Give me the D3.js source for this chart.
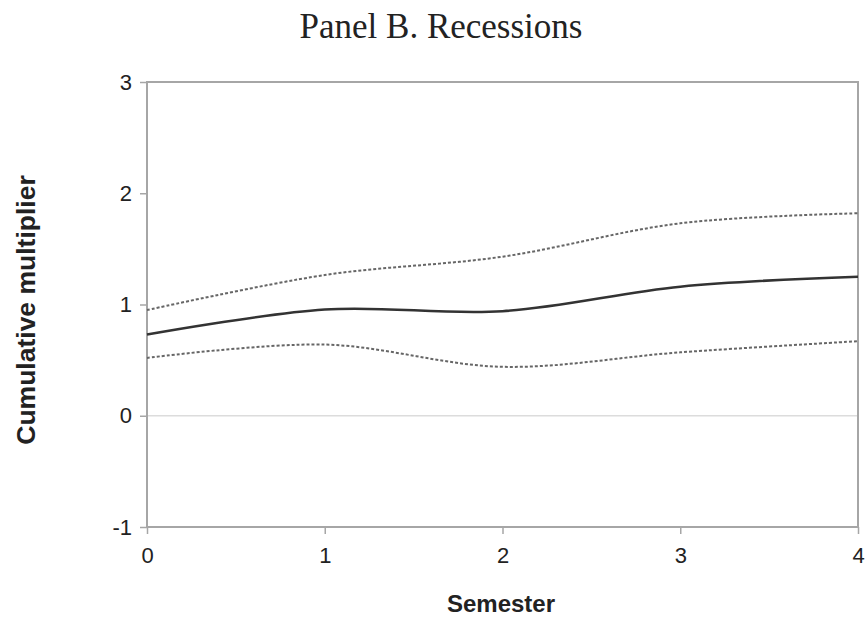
<!DOCTYPE html>
<html><head><meta charset="utf-8">
<script src="https://cdn.jsdelivr.net/npm/d3@7"></script>
<style>body{margin:0;background:#fff}</style>
</head><body><svg id="c" width="866" height="624"></svg>
<script>
const semesters = [0, 1, 2, 3, 4];
const estimate = [0.73, 0.955, 0.94, 1.16, 1.25];
const upperBand = [0.95, 1.265, 1.43, 1.73, 1.82];
const lowerBand = [0.52, 0.64, 0.44, 0.57, 0.67];
const xTicks = [0, 1, 2, 3, 4];
const yTicks = [-1, 0, 1, 2, 3];

const svg = d3.select('#c');
const m = {l:147, r:858, t:82, b:527};
const x = d3.scaleLinear().domain([0,4]).range([m.l, m.r]);
const y = d3.scaleLinear().domain([-1,3]).range([m.b, m.t]);
const axisCol = '#a6a6a6';

// zero gridline
svg.append('line').attr('x1', x(0)).attr('x2', x(4)).attr('y1', y(0)).attr('y2', y(0))
  .attr('stroke', '#dcdcdc').attr('stroke-width', 1.5);

// frame
svg.append('rect').attr('x', m.l).attr('y', m.t).attr('width', m.r-m.l).attr('height', m.b-m.t)
  .attr('fill','none').attr('stroke', axisCol).attr('stroke-width', 2);

const yAxis = svg.append('g').attr('transform', `translate(${m.l},0)`)
  .call(d3.axisLeft(y).tickValues(yTicks).tickSize(7).tickPadding(8).tickFormat(d => String(d)));
const xAxis = svg.append('g').attr('transform', `translate(0,${m.b})`)
  .call(d3.axisBottom(x).tickValues(xTicks).tickSize(7).tickPadding(13).tickFormat(d => String(d)));
[yAxis, xAxis].forEach(a => {
  a.select('.domain').remove();
  a.selectAll('line').attr('stroke', axisCol).attr('stroke-width', 1.5);
  a.selectAll('text').attr('fill', '#222').style('font-family', 'Liberation Sans, Arial, sans-serif').style('font-size', '22px');
});

const line = d3.line().x((d,i) => x(semesters[i])).y(d => y(d)).curve(d3.curveCatmullRom.alpha(0.5));
svg.append('path').datum(upperBand).attr('d', line).attr('fill','none')
  .attr('stroke', '#666').attr('stroke-width', 2).attr('stroke-dasharray', '3,2');
svg.append('path').datum(lowerBand).attr('d', line).attr('fill','none')
  .attr('stroke', '#666').attr('stroke-width', 2).attr('stroke-dasharray', '3,2');
svg.append('path').datum(estimate).attr('d', line).attr('fill','none')
  .attr('stroke', '#333').attr('stroke-width', 2.6);

svg.append('text').attr('x', 441).attr('y', 38).attr('text-anchor','middle')
  .style('font-family','Liberation Serif, Times New Roman, serif').style('font-size','35px').attr('fill','#222')
  .text('Panel B. Recessions');
svg.append('text').attr('x', 501).attr('y', 612).attr('text-anchor','middle')
  .style('font-family','Liberation Sans, Arial, sans-serif').style('font-size','24px').style('font-weight','bold').attr('fill','#222')
  .text('Semester');
svg.append('text').attr('transform','translate(35,310) rotate(-90)').attr('text-anchor','middle')
  .style('font-family','Liberation Sans, Arial, sans-serif').style('font-size','26.5px').style('font-weight','bold').attr('fill','#222')
  .text('Cumulative multiplier');
</script></body></html>
